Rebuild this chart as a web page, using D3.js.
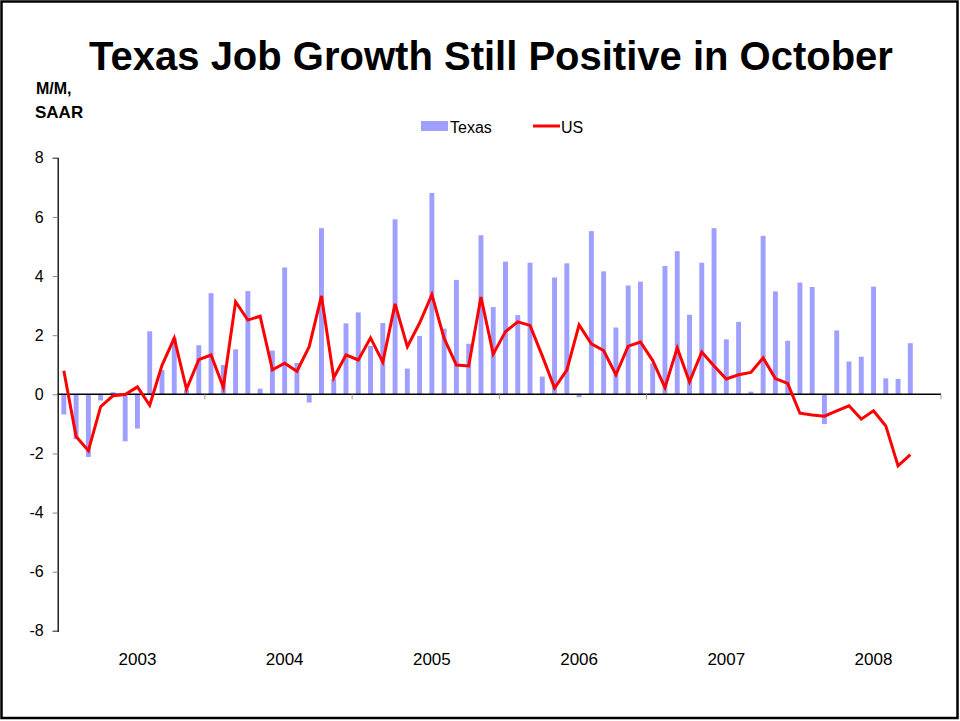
<!doctype html>
<html>
<head>
<meta charset="UTF-8">
<title>Texas Job Growth</title>
<style>
  body { margin: 0; background: #fff; }
  svg { display: block; font-family: "Liberation Sans", Arial, sans-serif; }
</style>
</head>
<body>
<svg id="chart" width="960" height="721"></svg>
<script src="https://cdn.jsdelivr.net/npm/d3@7/dist/d3.min.js"></script>
<script>
// month by month categories, Jan 2003 - Dec 2008
var years = ["2003", "2004", "2005", "2006", "2007", "2008"];
var monthNames = ["Jan", "Feb", "Mar", "Apr", "May", "Jun", "Jul", "Aug", "Sep", "Oct", "Nov", "Dec"];

// Texas employment growth, M/M SAAR (%), through Oct 2008
var texas = [
  -0.68, -1.52, -2.12, -0.21, 0.07, -1.59, -1.16, 2.13, 0.82, 1.91, 0.16, 1.66,
  3.42, 0.99, 1.52, 3.49, 0.19, 1.48, 4.29, 1.06, -0.28, 5.62, 0.53, 2.40,
  2.77, 1.64, 2.41, 5.92, 0.87, 1.97, 6.81, 2.22, 3.87, 1.71, 5.38, 2.95,
  4.49, 2.68, 4.45, 0.60, 3.95, 4.43, -0.10, 5.52, 4.16, 2.26, 3.68, 3.81,
  1.05, 4.34, 4.84, 2.69, 4.45, 5.62, 1.86, 2.45, 0.09, 5.36, 3.48, 1.81,
  3.78, 3.63, -1.01, 2.16, 1.11, 1.27, 3.64, 0.54, 0.52, 1.73
];

// US employment growth, M/M SAAR (%)
var us = [
  0.80, -1.43, -1.91, -0.42, -0.05, -0.01, 0.25, -0.37, 0.98, 1.90, 0.17, 1.17,
  1.33, 0.24, 3.13, 2.51, 2.64, 0.83, 1.05, 0.78, 1.61, 3.33, 0.56, 1.33,
  1.16, 1.91, 1.09, 3.06, 1.61, 2.41, 3.37, 1.89, 0.99, 0.96, 3.29, 1.36,
  2.12, 2.45, 2.33, 1.30, 0.21, 0.82, 2.35, 1.71, 1.48, 0.66, 1.63, 1.77,
  1.14, 0.23, 1.57, 0.42, 1.43, 0.96, 0.52, 0.66, 0.74, 1.23, 0.53, 0.37,
  -0.64, -0.70, -0.74, -0.56, -0.39, -0.84, -0.56, -1.07, -2.42, -2.04
];

var yTicks = [-8, -6, -4, -2, 0, 2, 4, 6, 8];

var categories = [];
years.forEach(function(yr) {
  monthNames.forEach(function(m) { categories.push(m + "-" + yr.slice(2)); });
});

var svg = d3.select("#chart");

// slide frame
svg.append("rect")
  .attr("x", 1.5).attr("y", 1.5)
  .attr("width", 956).attr("height", 716.5)
  .attr("fill", "none").attr("stroke", "#000").attr("stroke-width", 2.5);

var plotLeft = 57.7, plotRight = 941, plotTop = 157.8, plotBottom = 630.8;

var x = d3.scaleBand()
  .domain(categories)
  .range([plotLeft, plotRight])
  .paddingInner(0.6)
  .paddingOuter(0.3);

var y = d3.scaleLinear().domain([-8, 8]).range([plotBottom, plotTop]);

function cx(i) { return x(categories[i]) + x.bandwidth() / 2; }

// title
svg.append("text")
  .attr("x", 491).attr("y", 70)
  .attr("text-anchor", "middle")
  .style("font-size", "40px").style("font-weight", "bold")
  .text("Texas Job Growth Still Positive in October");

// units label
svg.append("text").attr("x", 36).attr("y", 94)
  .style("font-size", "16px").style("font-weight", "bold").text("M/M,");
svg.append("text").attr("x", 35).attr("y", 118)
  .style("font-size", "17px").style("font-weight", "bold").text("SAAR");

// legend
var legend = svg.append("g").style("font-size", "16px");
legend.append("rect").attr("x", 421).attr("y", 121).attr("width", 27).attr("height", 10)
  .attr("fill", "#9f9fff");
legend.append("text").attr("x", 450).attr("y", 133).text("Texas");
legend.append("line").attr("x1", 533).attr("x2", 560).attr("y1", 126).attr("y2", 126)
  .attr("stroke", "#ff0000").attr("stroke-width", 3);
legend.append("text").attr("x", 561).attr("y", 133).text("US");

// bars
svg.append("g").selectAll("rect")
  .data(texas)
  .enter().append("rect")
  .attr("x", function(d, i) { return x(categories[i]); })
  .attr("width", x.bandwidth())
  .attr("y", function(d) { return y(Math.max(0, d)); })
  .attr("height", function(d) { return Math.abs(y(d) - y(0)); })
  .attr("fill", "#9f9fff");

// y axis (plain hyphen for negatives, like the original)
var yAxis = svg.append("g")
  .attr("transform", "translate(" + plotLeft + ",0)")
  .call(d3.axisLeft(y).tickValues(yTicks).tickSize(5).tickPadding(9)
    .tickFormat(function(d) { return String(d); }));
yAxis.select(".domain").attr("stroke", "#000").attr("stroke-width", 1.3);
yAxis.selectAll(".tick line").attr("stroke", "#888");
yAxis.selectAll("text").style("font-size", "16px").style("font-family", "Liberation Sans, Arial, sans-serif").attr("fill", "#000");

// zero line with year boundary ticks
svg.append("line")
  .attr("x1", plotLeft).attr("x2", plotRight)
  .attr("y1", y(0)).attr("y2", y(0))
  .attr("stroke", "#000").attr("stroke-width", 1.5);

var step = x.step();
svg.append("g").selectAll("line")
  .data(years)
  .enter().append("line")
  .attr("x1", function(d, i) { return cx((i + 1) * 12 - 1) + step / 2; })
  .attr("x2", function(d, i) { return cx((i + 1) * 12 - 1) + step / 2; })
  .attr("y1", y(0)).attr("y2", y(0) + 5)
  .attr("stroke", "#999");

// year labels, centred on July
svg.append("g").selectAll("text")
  .data(years)
  .enter().append("text")
  .attr("x", function(d, i) { return cx(i * 12 + 6); })
  .attr("y", 665)
  .attr("text-anchor", "middle")
  .style("font-size", "17px")
  .text(function(d) { return d; });

// US line
var line = d3.line()
  .x(function(d, i) { return cx(i); })
  .y(function(d) { return y(d); });

svg.append("path")
  .datum(us)
  .attr("d", line)
  .attr("fill", "none")
  .attr("stroke", "#ff0000")
  .attr("stroke-width", 3)
  .attr("stroke-linejoin", "miter");
</script>
</body>
</html>
